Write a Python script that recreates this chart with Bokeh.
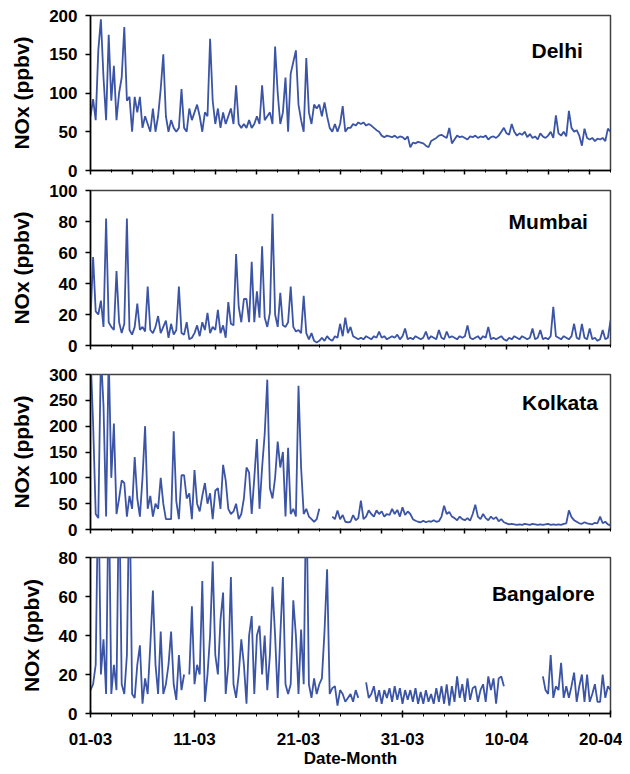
import numpy as np
from bokeh.plotting import figure
from bokeh.layouts import column
from bokeh.models import Range1d, FixedTicker, Label
from bokeh.embed import file_html
from bokeh.resources import INLINE

nan = float("nan")
STEP = 0.25  # days between readings (6-hourly)

# NOx (ppbv), 4 readings per day from 01-03 to 20-04
delhi = [
    70, 92, 65, 155, 195, 120, 65, 175, 90, 135, 65, 100, 120, 185, 90, 95,
    50, 95, 75, 95, 55, 70, 60, 50, 80, 50, 70, 105, 150, 70, 50, 65,
    55, 50, 55, 105, 55, 50, 80, 65, 75, 85, 70, 50, 75, 70, 170, 90,
    60, 80, 55, 75, 60, 70, 80, 60, 110, 60, 55, 60, 55, 65, 55, 60,
    70, 60, 110, 65, 70, 75, 60, 160, 100, 60, 75, 120, 50, 125, 140, 155,
    85, 65, 50, 145, 75, 60, 85, 80, 85, 70, 88, 70, 55, 50, 60, 50,
    60, 83, 50, 55, 55, 60, 58, 62, 60, 62, 58, 60, 58, 55, 52, 50,
    45, 43, 45, 44, 43, 45, 42, 44, 43, 40, 44, 30, 36, 35, 37, 36,
    35, 32, 30, 38, 40, 42, 45, 46, 44, 42, 55, 35, 40, 45, 43, 44,
    42, 40, 44, 43, 45, 42, 44, 43, 45, 40, 43, 44, 42, 45, 50, 55,
    48, 46, 60, 50, 45, 48, 46, 50, 43, 47, 42, 44, 40, 48, 44, 42,
    45, 50, 42, 71, 48, 45, 50, 44, 77, 55, 50, 52, 45, 32, 54, 42,
    40, 42, 38, 41, 40, 42, 38, 54, 50,
]
mumbai = [
    17, 57, 22, 20, 29, 12, 82, 15, 12, 10, 48, 15, 8, 14, 82, 10,
    7, 12, 27, 10, 12, 9, 38, 10, 8, 12, 19, 8, 12, 16, 5, 14,
    7, 10, 38, 8, 7, 15, 4, 5, 8, 13, 6, 15, 10, 21, 8, 12,
    10, 23, 8, 13, 5, 28, 14, 13, 59, 25, 15, 30, 30, 15, 54, 15,
    35, 18, 64, 18, 12, 21, 85, 20, 12, 34, 13, 12, 15, 38, 12, 9,
    10, 8, 32, 8, 4, 8, 3, 2, 3, 5, 3, 6, 4, 3, 6, 5,
    14, 6, 18, 8, 12, 6, 5, 4, 5, 4, 6, 5, 4, 6, 5, 9,
    5, 6, 4, 5, 6, 5, 7, 4, 6, 11, 4, 5, 4, 6, 5, 4,
    5, 9, 4, 6, 5, 4, 10, 5, 4, 9, 5, 6, 5, 4, 6, 5,
    6, 13, 5, 4, 5, 6, 4, 6, 5, 12, 4, 5, 4, 5, 6, 4,
    3, 5, 4, 6, 5, 4, 6, 5, 4, 5, 11, 4, 5, 10, 4, 5,
    4, 6, 25, 6, 5, 4, 6, 5, 4, 6, 14, 5, 4, 14, 5, 4,
    11, 4, 5, 3, 4, 10, 4, 5, 16,
]
kolkata = [
    340, 205, 30, 22, 340, 240, 25, 340, 100, 205, 30, 60, 95, 90, 25, 65,
    40, 140, 60, 25, 100, 200, 40, 65, 25, 50, 40, 100, 50, 20, 20, 20,
    190, 55, 20, 105, 105, 60, 70, 20, 115, 50, 35, 65, 90, 50, 70, 20,
    75, 80, 40, 125, 95, 40, 30, 35, 50, 20, 30, 60, 120, 110, 30, 100,
    175, 40, 120, 185, 290, 80, 60, 100, 170, 120, 150, 25, 158, 30, 40, 25,
    278, 120, 30, 40, 25, 20, 15, 20, 40, nan, nan, nan, nan, 25, 20, 37,
    20, 28, 15, 14, 15, 28, 18, 22, 56, 20, 25, 37, 30, 25, 37, 30,
    35, 25, 30, 28, 40, 30, 38, 25, 43, 28, 35, 30, 20, 17, 15, 14,
    17, 14, 16, 15, 18, 15, 16, 25, 46, 30, 34, 25, 22, 18, 25, 20,
    18, 22, 17, 30, 48, 25, 20, 30, 22, 18, 25, 20, 24, 16, 20, 14,
    12, 10, 11, 10, 9, 10, 9, 11, 10, 9, 11, 10, 9, 10, 9, 10,
    11, 9, 10, 9, 10, 9, 11, 12, 37, 24, 18, 15, 12, 11, 14, 12,
    11, 10, 13, 12, 25, 12, 15, 10, 8,
]
bangalore = [
    12, 15, 25, 120, 20, 38, 10, 120, 10, 25, 12, 120, 15, 10, 30, 120,
    10, 8, 25, 35, 5, 18, 10, 35, 63, 25, 10, 42, 10, 15, 25, 42,
    15, 7, 30, 12, 20, nan, 20, 55, 15, 25, 20, 68, 6, 20, 40, 78,
    30, 20, 48, 62, 10, 25, 70, 15, 8, 20, 38, 25, 5, 40, 50, 10,
    40, 45, 20, 40, 12, 30, 65, 40, 8, 40, 70, 15, 10, 15, 58, 40,
    10, 43, 15, 120, 15, 8, 18, 10, 15, 18, 42, 74, 10, 13, 14, 4,
    12, 10, 6, 8, 10, 6, 12, 8, nan, nan, 16, 8, 10, 14, 6, 12,
    5, 12, 8, 13, 6, 14, 7, 13, 5, 12, 7, 12, 6, 13, 5, 11,
    5, 12, 6, 10, 5, 13, 6, 14, 5, 15, 4, 14, 6, 19, 8, 15,
    6, 18, 7, 13, 14, 6, 12, 15, 6, 19, 12, 18, 5, 18, 19, 14,
    nan, nan, nan, nan, nan, nan, nan, nan, nan, nan, nan, nan, nan, nan, 19, 12,
    10, 30, 8, 14, 12, 26, 8, 14, 8, 14, 21, 6, 14, 20, 6, 20,
    6, 10, 15, 6, 6, 20, 8, 14, 12,
]

cities = ["Delhi", "Mumbai", "Kolkata", "Bangalore"]
series = [delhi, mumbai, kolkata, bangalore]
y_max = [200, 100, 300, 80]
y_step = [50, 20, 50, 20]
tick_days = [0, 10, 20, 30, 40, 50]
tick_labels = ["01-03", "11-03", "21-03", "31-03", "10-04", "20-04"]

FONT = "Liberation Sans"
LINE = "#3B54A5"
FRAME_W = 525
FIG_W = 622

# per panel layout: (left border, top border, frame height, bottom border)
geom = [(85, 15, 155, 10), (85, 10, 155, 15), (85, 14, 155, 16), (90, 12, 156, 59)]
# title anchor (days, value) for each panel
title_pos = [(42.4, 155), (40.2, 80), (41.5, 246), (38.6, 61.5)]

figs = []
for i, (name, vals) in enumerate(zip(cities, series)):
    left, top, fh, bottom = geom[i]
    last = i == len(cities) - 1
    p = figure(width=FIG_W, height=top + fh + bottom, output_backend="svg",
               toolbar_location=None, x_range=Range1d(0, 50),
               y_range=Range1d(0, y_max[i]))
    p.min_border_left = left
    p.min_border_right = FIG_W - left - FRAME_W
    p.min_border_top = top
    p.min_border_bottom = bottom
    p.background_fill_color = "white"
    p.border_fill_color = "white"
    p.outline_line_color = "#404040"
    p.outline_line_width = 1.5
    p.grid.visible = False

    x = np.arange(len(vals)) * STEP
    p.line(x, np.array(vals, dtype=float), line_color=LINE, line_width=1.8)

    ya = p.yaxis[0]
    ya.ticker = FixedTicker(ticks=list(range(0, y_max[i] + 1, y_step[i])))
    ya.axis_label = "NOx (ppbv)"
    ya.axis_label_text_font = FONT
    ya.axis_label_text_font_style = "bold"
    ya.axis_label_text_font_size = "21px"
    ya.axis_label_text_color = "black"
    ya.axis_label_standoff = 13
    ya.major_label_text_font = FONT
    ya.major_label_text_font_style = "bold"
    ya.major_label_text_font_size = "17px"
    ya.major_label_text_color = "black"
    ya.major_label_standoff = 8
    ya.major_tick_out = 5
    ya.major_tick_in = 0
    ya.minor_tick_line_color = None
    ya.axis_line_color = "black"
    ya.axis_line_width = 1.5
    ya.major_tick_line_width = 1.5

    xa = p.xaxis[0]
    xa.axis_line_color = "black"
    xa.axis_line_width = 1.5
    xa.major_tick_line_width = 1.5
    xa.minor_tick_line_width = 1
    if last:
        xa.ticker = FixedTicker(ticks=tick_days, minor_ticks=list(range(0, 51, 2)))
        xa.major_label_overrides = {d: lab for d, lab in zip(tick_days, tick_labels)}
        xa.major_label_text_font = FONT
        xa.major_label_text_font_style = "bold"
        xa.major_label_text_font_size = "17px"
        xa.major_label_text_color = "black"
        xa.major_label_standoff = 15
        xa.major_tick_out = 4
        xa.major_tick_in = 3
        xa.minor_tick_out = 3
        xa.minor_tick_in = 0
        xa.axis_label = "Date-Month"
        xa.axis_label_text_font = FONT
        xa.axis_label_text_font_style = "bold"
        xa.axis_label_text_font_size = "17px"
        xa.axis_label_text_color = "black"
        xa.axis_label_standoff = 1
    else:
        xa.ticker = FixedTicker(ticks=list(range(0, 51, 4)), minor_ticks=list(range(0, 51, 2)))
        xa.major_label_text_font_size = "0px"
        xa.major_label_text_color = None
        xa.major_label_standoff = 0
        xa.major_tick_out = 4
        xa.major_tick_in = 0
        xa.minor_tick_out = 2
        xa.minor_tick_in = 1

    tx, ty = title_pos[i]
    p.add_layout(Label(x=tx, y=ty, text=name, text_font=FONT, text_font_style="bold",
                       text_font_size="21px", text_color="black",
                       text_align="left", text_baseline="middle"))
    figs.append(p)

layout = column(*figs, spacing=0)
open("out.html", "w").write(file_html(layout, INLINE))
